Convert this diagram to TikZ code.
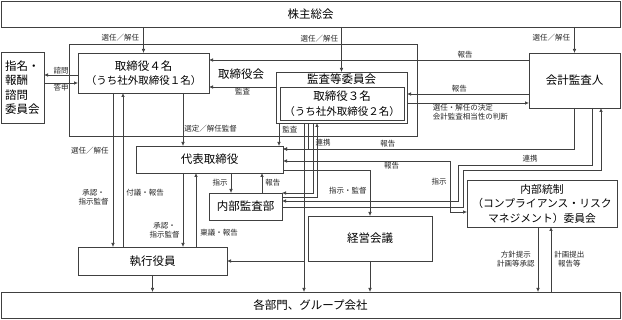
\documentclass[tikz,border=0pt]{standalone}
\usepackage{fontspec}
\setmainfont{Noto Sans CJK JP}
\usetikzlibrary{arrows.meta, positioning, calc}

\tikzset{
  box/.style={draw=black!75, line width=0.8pt, fill=white, inner sep=0pt, outer sep=0pt,
    align=center, font=\fontsize{11.5}{14.5}\selectfont},
  frame/.style={draw=black!75, line width=0.8pt, inner sep=0pt, outer sep=0pt},
  lbl/.style={font=\fontsize{7.5}{9}\selectfont, inner sep=1pt, align=center, text=black!85},
  ln/.style={draw=black!75, line width=0.7pt},
  arr/.style={ln, -{Latex[length=4pt,width=3.6pt]}},
  arrs/.style={ln, {Latex[length=4pt,width=3.6pt]}-{Latex[length=4pt,width=3.6pt]}},
}

\begin{document}
\begin{tikzpicture}[x=1pt, y=-1pt]
\useasboundingbox (0,0) rectangle (622,320);

% 上下の帯
\node[box, minimum width=619, minimum height=26] (kabunushi) at (310.5,14) {株主総会};
\node[box, minimum width=619, minimum height=26] (kakubumon) at (310.5,305) {各部門、グループ会社};

% 取締役会の枠
\node[frame, minimum width=348, minimum height=92] (torikai) at (243,90) {};
\node[font=\fontsize{11.5}{14}\selectfont] (torikaiLbl) at (241,74) {取締役会};

\node[box, minimum width=43, minimum height=71, align=left] (shimei) at (22.5,87.5) {指名・\\報酬\\諮問\\委員会};
\node[box, minimum width=131, minimum height=40] (torishimari) at (143.5,73)
  {取締役４名\\{\fontsize{10.5}{14}\selectfont（うち社外取締役１名）}};

% 監査等委員会（二重枠）
\node[box, minimum width=131, minimum height=51] (kansa) at (341.5,97.5) {};
\node[font=\fontsize{11.5}{14}\selectfont] (kansaTtl) at (341.5,79.5) {監査等委員会};
\node[box, minimum width=124, minimum height=33] (kansaIn) at (342,103.5)
  {取締役３名\\{\fontsize{10.5}{13}\selectfont（うち社外取締役２名）}};

\node[box, minimum width=91, minimum height=55] (kaikei) at (574.5,80.5) {会計監査人};
\node[box, minimum width=147, minimum height=27] (daihyo) at (209.5,159.5) {代表取締役};
\node[box, minimum width=73, minimum height=27] (naibu) at (245.5,206.5) {内部監査部};
\node[box, minimum width=149, minimum height=28] (shikko) at (152.5,261) {執行役員};
\node[box, minimum width=124, minimum height=45] (keiei) at (370,238.5) {経営会議};
\node[box, minimum width=150, minimum height=47, font=\fontsize{10.8}{14.5}\selectfont] (tosei) at (542,203.5)
  {内部統制\\（コンプライアンス・リスク\\マネジメント）委員会};

% 株主総会から
\draw[arr] (kabunushi.south -| torishimari.north) -- (torishimari.north)
  node[lbl, left=3pt, pos=0.4] (l1) {選任／解任};
\draw[arr] (kabunushi.south -| kansa.north) -- (kansa.north)
  node[lbl, left=2pt, pos=0.25] (l2) {選任／解任};
\draw[arr] (kabunushi.south -| kaikei.north) -- (kaikei.north)
  node[lbl, left=3pt, pos=0.42] (l3) {選任／解任};

% 指名・報酬諮問委員会
\draw[arr] ([yshift=-2pt]torishimari.west) -- ([yshift=-2pt]torishimari.west -| shimei.east)
  node[lbl, midway, above] (l4) {諮問};
\draw[arr] ([yshift=-10pt]torishimari.west -| shimei.east) -- ([yshift=-10pt]torishimari.west)
  node[lbl, midway, below] (l5) {答申};

% 監査等委員会・会計監査人と取締役
\draw[arr] ([yshift=10.5pt]kansa.west) -- ([yshift=10.5pt]kansa.west -| torishimari.east)
  node[lbl, midway, below] (l6) {監査};
\draw[arr] ([yshift=20.5pt]kaikei.west) -- ([yshift=20.5pt]kaikei.west -| torishimari.east)
  node[lbl, pos=0.2, above] (l7) {報告};
\draw[arr] ([yshift=-13.5pt]kaikei.west) -- ([yshift=-13.5pt]kaikei.west -| kansa.east)
  node[lbl, pos=0.57, above] (l8) {報告};
\draw[arr] ([yshift=-5.5pt]kansa.east) -- ([yshift=-5.5pt]kansa.east -| kaikei.west)
  node[lbl, pos=0.2, below right, align=left] (l9) {選任・解任の決定\\会計監査相当性の判断};

% 代表取締役へ
\draw[arr] ([xshift=39.5pt]torishimari.south) -- ([xshift=39.5pt]torishimari.south |- daihyo.north)
  node[lbl, right, pos=0.68] (l10) {選定／解任監督};
\draw[arr] ([xshift=-62.5pt]kansa.south) -- ([xshift=-62.5pt]kansa.south |- daihyo.north)
  node[lbl, right=2pt, pos=0.3] (l11) {監査};

% 執行役員
\draw[arr] ([xshift=-30.5pt]torishimari.south) -- ([xshift=-30.5pt]torishimari.south |- shikko.north)
  node[lbl, left=3pt, pos=0.377] (l12) {選任／解任}
  node[lbl, left=3pt, pos=0.675] (l13) {承認・\\指示監督};
\draw[arr] ([xshift=-20.5pt]torishimari.south |- shikko.north) -- ([xshift=-20.5pt]torishimari.south)
  node[lbl, right=2pt, pos=0.35] (l14) {付議・報告};
\draw[arr] ([xshift=-26.5pt]daihyo.south) -- ([xshift=-26.5pt]daihyo.south |- shikko.north)
  node[lbl, left=2pt, pos=0.78] (l15) {承認・\\指示監督};
\draw[arr] ([xshift=-13.5pt]daihyo.south |- shikko.north) -- ([xshift=-13.5pt]daihyo.south)
  node[lbl, right=3pt, pos=0.19] (l16) {稟議・報告};

% 内部監査部
\draw[arr] ([xshift=21.5pt]daihyo.south) -- ([xshift=21.5pt]daihyo.south |- naibu.north)
  node[lbl, left=2pt, midway] (l17) {指示};
\draw[arr] ([xshift=52.5pt]daihyo.south |- naibu.north) -- ([xshift=52.5pt]daihyo.south)
  node[lbl, right=2pt, midway] (l18) {報告};

% 監査等委員会の下から
\draw[arr] ([xshift=-37.5pt]kansa.south) -- ([xshift=-37.5pt]kansa.south |- kakubumon.north);
\draw[arr] ([xshift=-37.5pt]kansa.south |- shikko.east) -- (shikko.east);
\draw[arr] ([xshift=-33.5pt]kansa.south) |- ([yshift=10.5pt]daihyo.east);
\draw[arr] ([xshift=-28.5pt]kansa.south) |- ([yshift=13.5pt]naibu.east);
\draw[arr] ([yshift=9.5pt]naibu.east) -| ([xshift=-24.5pt]kansa.south);
\node[lbl] (l19) at (323,143) {連携};

% 会計監査人の下から
\draw[arr] (kaikei.south) |- ([yshift=10.5pt]daihyo.east)
  node[lbl, pos=0.82, above] (l20) {報告};
\draw[arr] ([xshift=17.5pt]kaikei.south) |- ++(-134,57) |- ([yshift=5.5pt]naibu.east);
\draw[arr] ([yshift=-0.5pt]naibu.east) -| ++(181,-37) -| ([xshift=26.5pt]kaikei.south);
\node[lbl] (l21) at (530,159) {連携};

% 内部統制・経営会議
\draw[arrs] ([yshift=-1.5pt]daihyo.east)
  -- node[lbl, pos=0.65, below] (l22) {報告} ++(167,0)
  |- node[lbl, pos=0.2, left=2pt] (l23) {指示} ([yshift=-8.5pt]tosei.west);
\draw[arr] ([yshift=-10.5pt]daihyo.east) -| (keiei.north)
  node[lbl, pos=0.72, left=2pt] (l24) {指示・監督};

% 各部門へ
\draw[arr] (shikko.south) -- (shikko.south |- kakubumon.north);
\draw[arr] (keiei.south) -- (keiei.south |- kakubumon.north);
\draw[arr] ([xshift=-4pt]tosei.south) -- ([xshift=-4pt]tosei.south |- kakubumon.north)
  node[lbl, left=2pt, midway] (l25) {方針提示\\計画等承認};
\draw[arr] ([xshift=9pt]tosei.south |- kakubumon.north) -- ([xshift=9pt]tosei.south)
  node[lbl, right=2pt, midway] (l26) {計画提出\\報告等};
\end{tikzpicture}
\end{document}
